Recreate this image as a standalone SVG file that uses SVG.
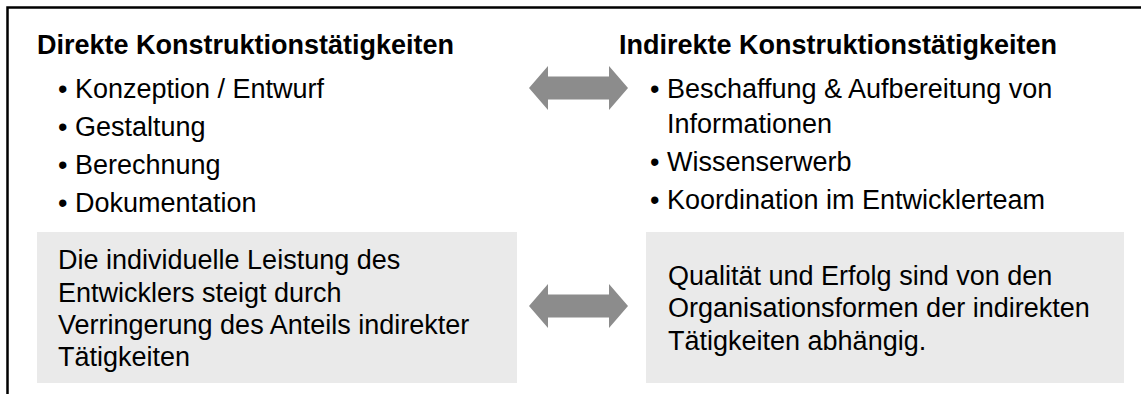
<svg xmlns="http://www.w3.org/2000/svg" width="1141" height="394" viewBox="0 0 1141 394">
  <style>
    text { font-family: "Liberation Sans", Arial, sans-serif; font-size: 27px; fill: #000; }
    .title { font-weight: bold; }
    .panel { fill: #eaeaea; }
    .arrow { fill: #8c8c8c; }
    .frame { fill: none; stroke: #000; stroke-width: 2.5; }
  </style>
  <defs>
    <!-- double-headed block arrow, centred on its own origin -->
    <path id="dblArrow" d="M-49.5 0 L-30.5 -22 L-30.5 -11.5 L30.5 -11.5 L30.5 -22 L49.5 0 L30.5 22 L30.5 11.5 L-30.5 11.5 L-30.5 22 Z"/>
  </defs>
  <rect width="1141" height="394" fill="#fff"/>

  <!-- outer frame: only top and left edges fall inside the view -->
  <path class="frame" d="M7.5 394 L7.5 7.5 L1141 7.5"/>

  <g id="direct">
    <text class="title" x="37" y="54">Direkte Konstruktionstätigkeiten</text>
    <text x="58" y="98">• Konzeption / Entwurf</text>
    <text x="58" y="136">• Gestaltung</text>
    <text x="58" y="174">• Berechnung</text>
    <text x="58" y="212">• Dokumentation</text>
  </g>

  <g id="indirect">
    <text class="title" x="619" y="54">Indirekte Konstruktionstätigkeiten</text>
    <text x="650" y="98">• Beschaffung &amp; Aufbereitung von</text>
    <text x="667" y="133">Informationen</text>
    <text x="650" y="171">• Wissenserwerb</text>
    <text x="650" y="209">• Koordination im Entwicklerteam</text>
  </g>

  <g id="direct-effect">
    <rect class="panel" x="37" y="232" width="480" height="151"/>
    <text x="58" y="269">Die individuelle Leistung des</text>
    <text x="58" y="302">Entwicklers steigt durch</text>
    <text x="58" y="334">Verringerung des Anteils indirekter</text>
    <text x="58" y="366">Tätigkeiten</text>
  </g>

  <g id="indirect-effect">
    <rect class="panel" x="646" y="232" width="478" height="151"/>
    <text x="668" y="285">Qualität und Erfolg sind von den</text>
    <text x="668" y="317">Organisationsformen der indirekten</text>
    <text x="668" y="350">Tätigkeiten abhängig.</text>
  </g>

  <g id="connectors">
    <use class="arrow" href="#dblArrow" x="578.5" y="88"/>
    <use class="arrow" href="#dblArrow" x="578.5" y="306"/>
  </g>
</svg>
